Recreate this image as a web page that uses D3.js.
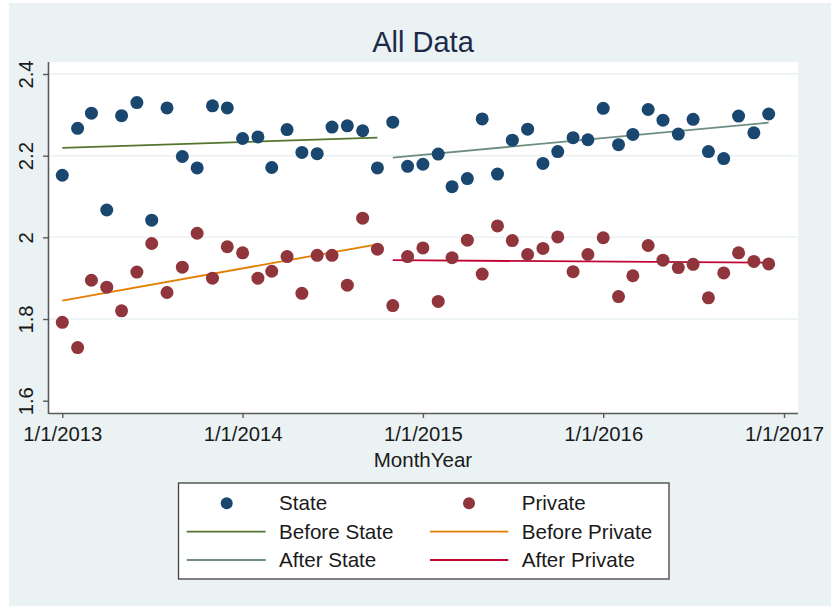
<!DOCTYPE html>
<html>
<head>
<meta charset="utf-8">
<script src="https://cdn.jsdelivr.net/npm/d3@7"></script>
<style>
  html, body { margin: 0; padding: 0; background: #ffffff; }
  svg { display: block; font-family: "Liberation Sans", Arial, sans-serif; }
</style>
</head>
<body>
<svg id="chart" width="831" height="607"></svg>
<script>
// ---- Data ----
const monthStart = "2013-01-01";
const monthEnd = "2017-01-01";
const stateValues = [
  2.152, 2.267, 2.304, 2.067, 2.298, 2.330, 2.042, 2.317, 2.198, 2.170, 2.322, 2.317,
  2.242, 2.246, 2.171, 2.264, 2.208, 2.205, 2.270, 2.273, 2.261, 2.170, 2.282, 2.174,
  2.179, 2.204, 2.124, 2.144, 2.290, 2.155, 2.238, 2.265, 2.181, 2.210, 2.244, 2.239,
  2.316, 2.227, 2.252, 2.313, 2.287, 2.253, 2.289, 2.210, 2.193, 2.297, 2.256, 2.302
];
const privateValues = [
  1.792, 1.730, 1.895, 1.878, 1.820, 1.915, 1.985, 1.865, 1.927, 2.010, 1.900, 1.977,
  1.962, 1.900, 1.917, 1.953, 1.863, 1.956, 1.956, 1.883, 2.047, 1.971, 1.833, 1.953,
  1.974, 1.843, 1.950, 1.993, 1.910, 2.028, 1.992, 1.958, 1.973, 2.001, 1.916, 1.958,
  1.999, 1.855, 1.906, 1.980, 1.944, 1.926, 1.934, 1.852, 1.913, 1.962, 1.941, 1.935
];
// fitted trend line endpoints
const trendDates = { before: ["2013-01-01", "2014-10-01"], after: ["2014-11-01", "2016-12-01"] };
const beforeState = [2.219, 2.244];
const afterState = [2.195, 2.281];
const beforePrivate = [1.845, 1.983];
const afterPrivate = [1.944, 1.938];

const xTickDates = ["2013-01-01", "2014-01-01", "2015-01-01", "2016-01-01", "2017-01-01"];
const xTickLabels = ["1/1/2013", "1/1/2014", "1/1/2015", "1/1/2016", "1/1/2017"];
const yTicks = [1.6, 1.8, 2, 2.2, 2.4];
const yTickLabels = ["1.6", "1.8", "2", "2.2", "2.4"];

const legendItems = [
  { label: "State", type: "dot", color: "#1a476f" },
  { label: "Private", type: "dot", color: "#90353b" },
  { label: "Before State", type: "line", color: "#55752f" },
  { label: "Before Private", type: "line", color: "#e37e00" },
  { label: "After State", type: "line", color: "#6e8e84" },
  { label: "After Private", type: "line", color: "#c10534" }
];

// ---- Drawing ----
const parse = d3.utcParse("%Y-%m-%d");
const months = d3.utcMonths(parse(monthStart), parse(monthEnd));
const svg = d3.select("#chart");

const bgColor = "#eaf2f3";
const plot = { left: 49, right: 798, top: 62, bottom: 413 };

svg.append("rect").attr("x", 9).attr("y", 3).attr("width", 822).attr("height", 603).attr("fill", bgColor);
svg.append("rect").attr("x", plot.left).attr("y", plot.top)
  .attr("width", plot.right - plot.left).attr("height", plot.bottom - plot.top).attr("fill", "#ffffff");

const x = d3.scaleUtc().domain([parse(xTickDates[0]), parse(xTickDates[4])]).range([62.3, 784]);
const y = d3.scaleLinear().domain([1.6, 2.4]).range([400.7, 74]);

// grid
svg.append("g").selectAll("line").data(yTicks.filter(v => v > 1.6)).join("line")
  .attr("x1", plot.left).attr("x2", plot.right)
  .attr("y1", d => y(d)).attr("y2", d => y(d))
  .attr("stroke", bgColor).attr("stroke-width", 1.5);

// title
svg.append("text").attr("x", 423).attr("y", 51.5).attr("text-anchor", "middle")
  .attr("font-size", 29).attr("fill", "#1c2a48").text("All Data");

// axes
const xAxis = d3.axisBottom(x).tickValues(xTickDates.map(parse))
  .tickFormat((d, i) => xTickLabels[i]).tickSize(5).tickPadding(9);
const gx = svg.append("g").attr("transform", `translate(0,${plot.bottom})`).call(xAxis);
gx.select(".domain").attr("d", `M${plot.left},0.5H${plot.right}`).attr("stroke", "#5a5a5a").attr("stroke-width", 1.6);
gx.selectAll(".tick line").attr("stroke", "#5a5a5a").attr("stroke-width", 1.4);
gx.selectAll(".tick text").attr("font-size", 20.3).attr("fill", "#1a1a1a")
  .attr("font-family", "'Liberation Sans', Arial, sans-serif");

const yAxis = d3.axisLeft(y).tickValues(yTicks).tickFormat((d, i) => yTickLabels[i]).tickSize(6).tickPadding(0);
const gy = svg.append("g").attr("transform", `translate(${plot.left},0)`).call(yAxis);
gy.select(".domain").attr("d", `M-0.5,${plot.top}V${plot.bottom + 1}`).attr("stroke", "#5a5a5a").attr("stroke-width", 1.6);
gy.selectAll(".tick line").attr("stroke", "#5a5a5a").attr("stroke-width", 1.4);
gy.selectAll(".tick text").attr("font-size", 20.3).attr("fill", "#1a1a1a")
  .attr("font-family", "'Liberation Sans', Arial, sans-serif")
  .attr("text-anchor", "middle").attr("dy", null).attr("x", null)
  .attr("transform", "translate(-16,0) rotate(-90)");

// x-axis title
svg.append("text").attr("x", 423).attr("y", 467).attr("text-anchor", "middle")
  .attr("font-size", 20.5).attr("fill", "#1a1a1a").text("MonthYear");

// trend lines
const trends = [
  { vals: beforeState, dates: trendDates.before, color: legendItems[2].color },
  { vals: beforePrivate, dates: trendDates.before, color: legendItems[3].color },
  { vals: afterState, dates: trendDates.after, color: legendItems[4].color },
  { vals: afterPrivate, dates: trendDates.after, color: legendItems[5].color }
];
const line = d3.line().x(d => x(d[0])).y(d => y(d[1]));
svg.append("g").selectAll("path").data(trends).join("path")
  .attr("d", t => line(t.dates.map((dt, i) => [parse(dt), t.vals[i]])))
  .attr("fill", "none").attr("stroke", t => t.color).attr("stroke-width", 1.8);

// points
const series = [
  { vals: stateValues, color: legendItems[0].color },
  { vals: privateValues, color: legendItems[1].color }
];
series.forEach(s => {
  svg.append("g").selectAll("circle").data(s.vals).join("circle")
    .attr("cx", (d, i) => x(months[i])).attr("cy", d => y(d))
    .attr("r", 6.5).attr("fill", s.color);
});

// legend
const lg = svg.append("g");
lg.append("rect").attr("x", 178.5).attr("y", 483).attr("width", 490.5).attr("height", 96)
  .attr("fill", "#ffffff").attr("stroke", "#404040").attr("stroke-width", 1.3);
const colX = [{ sym: 226.7, l1: 186.7, l2: 265.7, text: 279 }, { sym: 469, l1: 430, l2: 508.3, text: 521.7 }];
const rowY = [503.3, 531.7, 560];
legendItems.forEach((it, i) => {
  const c = colX[i % 2], ry = rowY[Math.floor(i / 2)];
  if (it.type === "dot") {
    lg.append("circle").attr("cx", c.sym).attr("cy", ry).attr("r", 6).attr("fill", it.color);
  } else {
    lg.append("line").attr("x1", c.l1).attr("x2", c.l2).attr("y1", ry).attr("y2", ry)
      .attr("stroke", it.color).attr("stroke-width", 1.8);
  }
  lg.append("text").attr("x", c.text).attr("y", ry + 7).attr("font-size", 20.6)
    .attr("fill", "#1a1a1a").text(it.label);
});
</script>
</body>
</html>
